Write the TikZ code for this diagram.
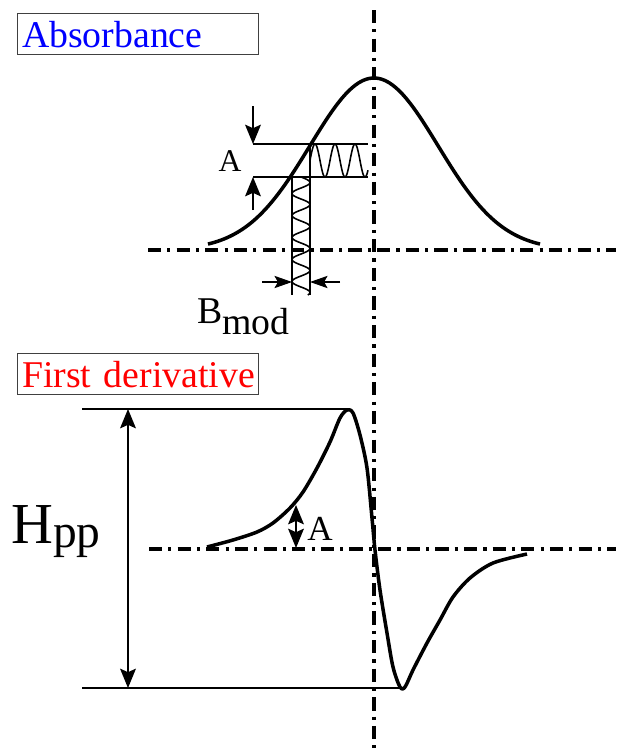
\documentclass[tikz,border=0pt]{standalone}
\usepackage{fontspec}
\setmainfont{Liberation Serif}
\usetikzlibrary{arrows.meta}

\begin{document}
\begin{tikzpicture}[x=0.02cm, y=-0.02cm, >={Stealth[length=11pt, width=9pt, inset=2pt]},
  every node/.style={inner sep=0pt},
  titlebox/.style={draw=black!75, line width=0.8pt, anchor=north west, inner xsep=2.5pt,
    text width=132pt, align=left, minimum height=0.82cm, font=\fontsize{21.5}{24}\selectfont},
  axis/.style={line width=2pt, dash pattern=on 7.5pt off 3.5pt on 1.8pt off 3.5pt},
  curve/.style={line width=2pt, line join=round},
  guide/.style={line width=0.6pt},
  strip/.style={line width=0.9pt},
  dim/.style={line width=1pt}]
\useasboundingbox (0,0) rectangle (616,751);

% titles
\node[titlebox, text=blue] (abs) at (17,13) {\mbox{Absorbance}};
\node[titlebox, text=red] (deriv) at (17,353) {\mbox{First derivative}};

% axes
\draw[axis] (374,10) -- (374,751);
\draw[axis] (148,250) -- (616,250);
\draw[axis] (149,549) -- (616,549);

% absorbance line
\draw[curve] plot[domain=208:540, samples=100] (\x, {250-172*exp(-0.5*((\x-374)/64)^2)});

% modulation
\coordinate (ahi) at (253,144);
\coordinate (alo) at (253,177);
\draw[guide] (ahi) -- (310,144);
\draw[guide] (alo) -- (292,177);
\draw[strip] (310,144) -- (368,144) (292,177) -- (368,177);
\draw[strip] (310,144) -- (310,295) (292,177) -- (292,295);
\draw[strip] plot[domain=310:368, samples=100] (\x, {160.5-16.5*cos(18*(\x-315))});
\draw[strip] plot[domain=177:295, samples=120] ({301+9*sin(360/22*(\x-177))}, \x);
\draw[dim, ->] (253,106) -- (ahi);
\draw[dim, ->] (253,210) -- (alo);
\node[font=\fontsize{18}{20}\selectfont] (alabel) at (230,161) {A};
\draw[guide, ->, >={Stealth[length=10pt, width=7pt, inset=2pt]}] (262,282) -- (292,282);
\draw[guide, ->, >={Stealth[length=10pt, width=7pt, inset=2pt]}] (340,282) -- (310,282);
\node[anchor=base west, font=\fontsize{21.5}{24}\selectfont] (bmod) at (197,323) {B\raisebox{-6.8pt}{mod}};

% first derivative
\coordinate (top) at (82,409);
\coordinate (bot) at (82,688);
\draw[line width=1.1pt] (top) -- (347,409);
\draw[line width=1.1pt] (bot) -- (403,688);
\draw[dim, <->] (128,409) -- (128,688);
\node[anchor=base west] (hpp) at (11,543)
  {{\fontsize{33}{36}\selectfont H}{\fontsize{27}{30}\selectfont\raisebox{-2.5pt}{pp}}};
\draw[curve] plot[smooth, tension=0.5] coordinates {(207,547) (233,540) (257,532) (273,523)
  (290,508) (303,492) (317,468) (330,442) (340,418) (347,410) (353,413) (360,435) (367,468)
  (372,518) (375,550) (380,590) (387,633) (393,667) (400,687) (405,687) (413,670) (427,643)
  (440,620) (453,597) (470,578) (493,563) (527,554)};
\draw[dim, <->] (296,505) -- (296,548);
\node[font=\fontsize{20}{22}\selectfont] (alabel2) at (320,529) {A};
\end{tikzpicture}
\end{document}
